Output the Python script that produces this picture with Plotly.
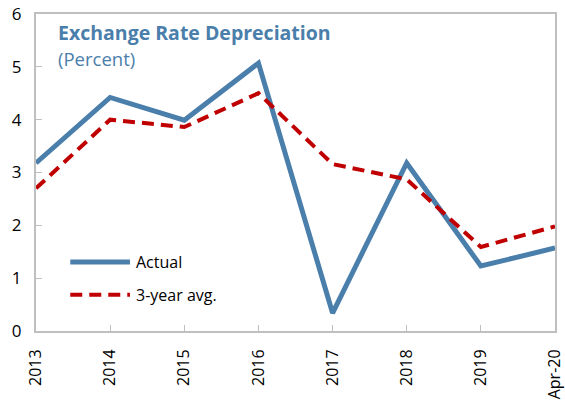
import plotly.graph_objects as go

categories = ["2013", "2014", "2015", "2016", "2017", "2018", "2019", "Apr-20"]
actual = [3.18, 4.42, 3.99, 5.07, 0.34, 3.18, 1.23, 1.57]
avg3 = [2.70, 4.00, 3.86, 4.50, 3.16, 2.87, 1.59, 1.98]

blue = "#4A7EAB"
red = "#C00000"
font = "Open Sans, Noto Sans, sans-serif"

fig = go.Figure()
fig.add_trace(go.Scatter(x=categories, y=actual, mode="lines", name="Actual",
                         line=dict(color=blue, width=5), showlegend=False))
fig.add_trace(go.Scatter(x=categories, y=avg3, mode="lines", name="3-year avg.",
                         line=dict(color=red, width=4, dash="12px,7px"), showlegend=False))

# manual legend (line samples + labels) in paper coordinates
legend_items = [("Actual", blue, 5, "solid", 0.218),
                ("3-year avg.", red, 4, "12px,7px", 0.114)]
shapes = []
annotations = []
for label, color, width, dash, yy in legend_items:
    shapes.append(dict(type="line", xref="paper", yref="paper",
                       x0=0.066, x1=0.181, y0=yy, y1=yy,
                       line=dict(color=color, width=width, dash=dash)))
    annotations.append(dict(text=label, xref="paper", yref="paper",
                            x=0.189, y=yy, xanchor="left", yanchor="middle",
                            showarrow=False, font=dict(size=16, color="#000000")))

annotations += [
    dict(text="<b>Exchange Rate Depreciation</b>", xref="paper", yref="paper",
         x=0.038, y=0.99, xanchor="left", yanchor="top", showarrow=False,
         font=dict(size=19.5, color=blue)),
    dict(text="(Percent)", xref="paper", yref="paper",
         x=0.038, y=0.905, xanchor="left", yanchor="top", showarrow=False,
         font=dict(size=18.5, color=blue)),
]

fig.update_layout(
    width=565, height=402,
    margin=dict(l=36, r=10, t=14, b=71),
    plot_bgcolor="white", paper_bgcolor="white",
    font=dict(family=font, size=16, color="#000000"),
    showlegend=False,
    shapes=shapes,
    annotations=annotations,
)
fig.update_xaxes(type="category", range=[0, 7], tickangle=-90, automargin=False,
                 showline=True, linecolor="#BFBFBF", linewidth=2, mirror=True,
                 ticks="inside", ticklen=6, tickcolor="#BFBFBF", tickwidth=1,
                 showgrid=False, zeroline=False, tickfont=dict(size=16),
                 ticklabelstandoff=10)
fig.update_yaxes(range=[0, 6], dtick=1, automargin=False,
                 showline=True, linecolor="#BFBFBF", linewidth=2, mirror=True,
                 ticks="inside", ticklen=6, tickcolor="#BFBFBF", tickwidth=1,
                 showgrid=False, zeroline=False, tickfont=dict(size=17),
                 ticklabelstandoff=9)

fig.write_html("out.html", config={"displayModeBar": False},
               post_script="document.body.style.margin='0';document.body.style.overflow='hidden';")
